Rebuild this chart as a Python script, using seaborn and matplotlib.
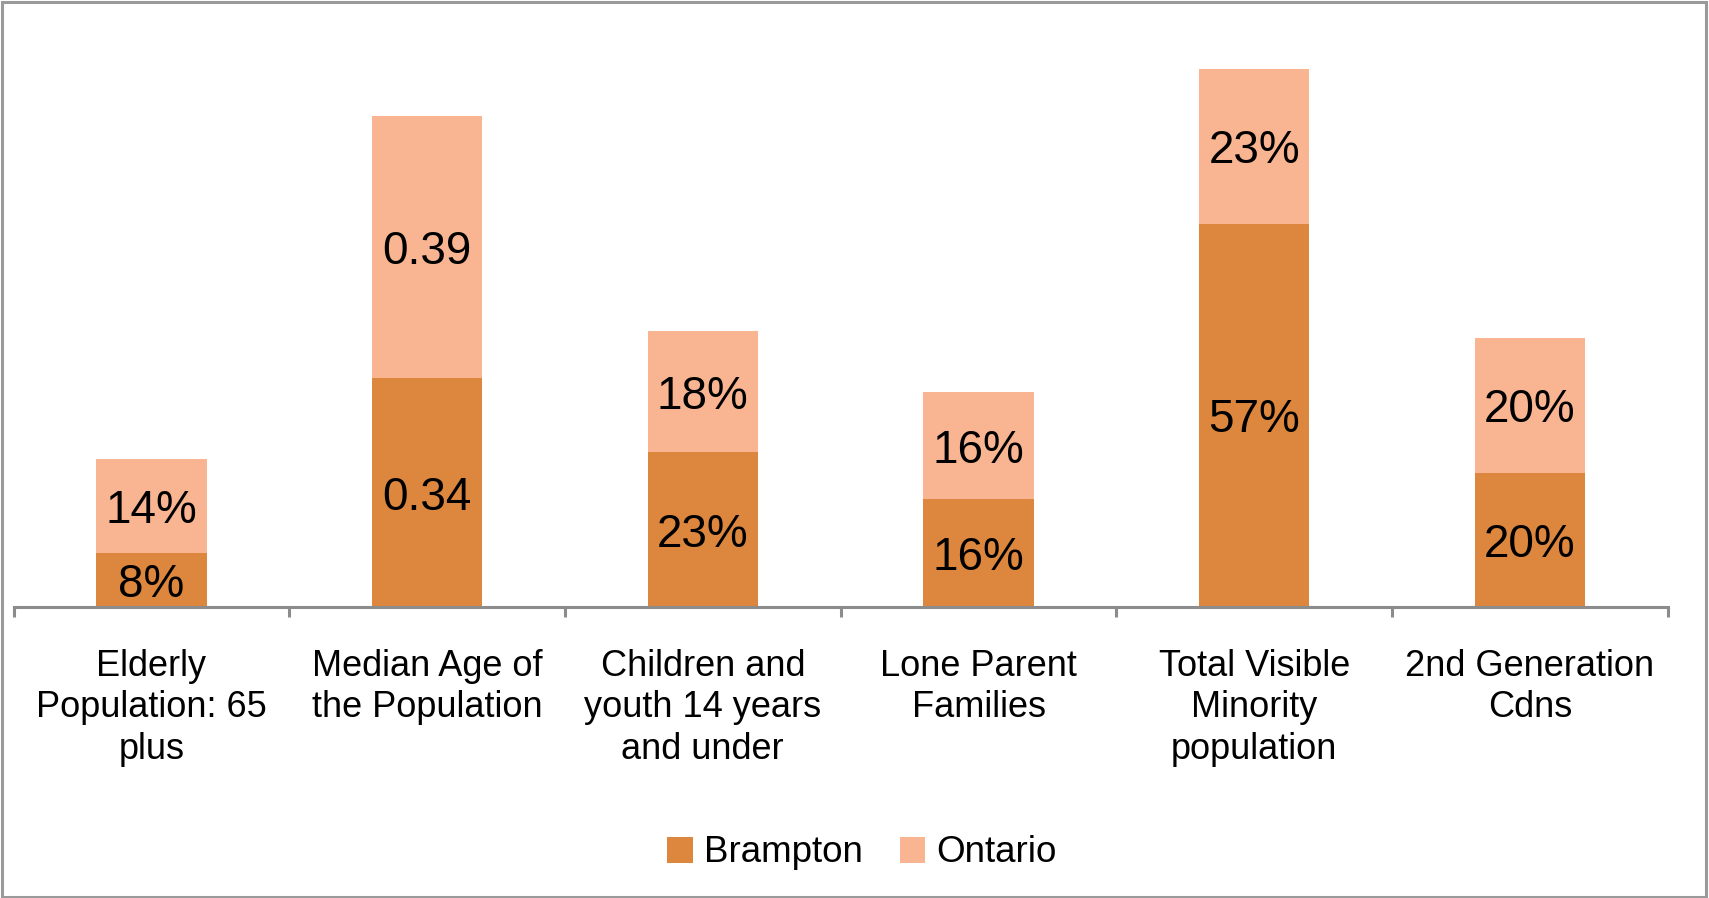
import numpy as np
import pandas as pd
import seaborn as sns
import matplotlib.pyplot as plt
from matplotlib.patches import Rectangle

# data
categories = ['Elderly\nPopulation: 65\nplus', 'Median Age of\nthe Population',
              'Children and\nyouth 14 years\nand under', 'Lone Parent\nFamilies',
              'Total Visible\nMinority\npopulation', '2nd Generation\nCdns']
brampton = [0.08, 0.34, 0.23, 0.16, 0.57, 0.20]
ontario = [0.14, 0.39, 0.18, 0.16, 0.23, 0.20]
brampton_labels = ['8%', '0.34', '23%', '16%', '57%', '20%']
ontario_labels = ['14%', '0.39', '18%', '16%', '23%', '20%']

c_bram = '#DD863D'
c_ont = '#F9B591'

sns.set_theme(style='white')
plt.rcParams['font.family'] = ['Liberation Sans', 'DejaVu Sans']

df = pd.DataFrame({'cat': categories, 'Brampton': brampton, 'Ontario': ontario})
df['total'] = df['Brampton'] + df['Ontario']

fig = plt.figure(figsize=(17.09, 8.98), dpi=100)
ax = fig.add_axes([0.0079, 0.324, 0.968, 0.665])

# stacked: total (light) behind, Brampton (dark) in front
sns.barplot(data=df, x='cat', y='total', color=c_ont, width=0.40,
            saturation=1, linewidth=0, ax=ax, label='Ontario')
sns.barplot(data=df, x='cat', y='Brampton', color=c_bram, width=0.40,
            saturation=1, linewidth=0, ax=ax, label='Brampton')

for i in range(len(categories)):
    ax.text(i, brampton[i] / 2, brampton_labels[i], ha='center', va='center_baseline',
            fontsize=33, color='black')
    ax.text(i, brampton[i] + ontario[i] / 2, ontario_labels[i], ha='center',
            va='center_baseline', fontsize=33, color='black')

ax.set_xlim(-0.5, len(categories) - 0.5)
ax.set_ylim(0, 0.888)
ax.set_xlabel('')
ax.set_ylabel('')
ax.set_yticks([])
for s in ['left', 'top', 'right']:
    ax.spines[s].set_visible(False)
ax.spines['bottom'].set_color('#8C8C8C')
ax.spines['bottom'].set_linewidth(2.2)

ax.set_xticks(range(len(categories)))
ax.set_xticklabels(categories, fontsize=26, linespacing=1.25, va='top', color='black')
ax.tick_params(axis='x', which='major', length=0, pad=30, bottom=True)
ax.set_xticks(np.arange(-0.5, len(categories), 1.0), minor=True)
ax.tick_params(axis='x', which='minor', length=7.5, width=2.2, bottom=True,
               color='#8C8C8C', direction='out')

handles, labels = ax.get_legend_handles_labels()
if ax.get_legend() is not None:
    ax.get_legend().remove()
order = [labels.index('Brampton'), labels.index('Ontario')]
leg = fig.legend([handles[k] for k in order], [labels[k] for k in order],
                 loc='center', bbox_to_anchor=(862 / 1709, 1 - 853 / 898),
                 ncol=2, frameon=False, fontsize=26.5, handlelength=0.7,
                 handleheight=0.7, handletextpad=0.3, columnspacing=1.0,
                 labelcolor='black')

fig.patches.append(Rectangle((0.001, 0.001), 0.997, 0.997, transform=fig.transFigure,
                             fill=False, edgecolor='#9A9A9A', linewidth=2.2))

fig.savefig('out.png', dpi=100)
